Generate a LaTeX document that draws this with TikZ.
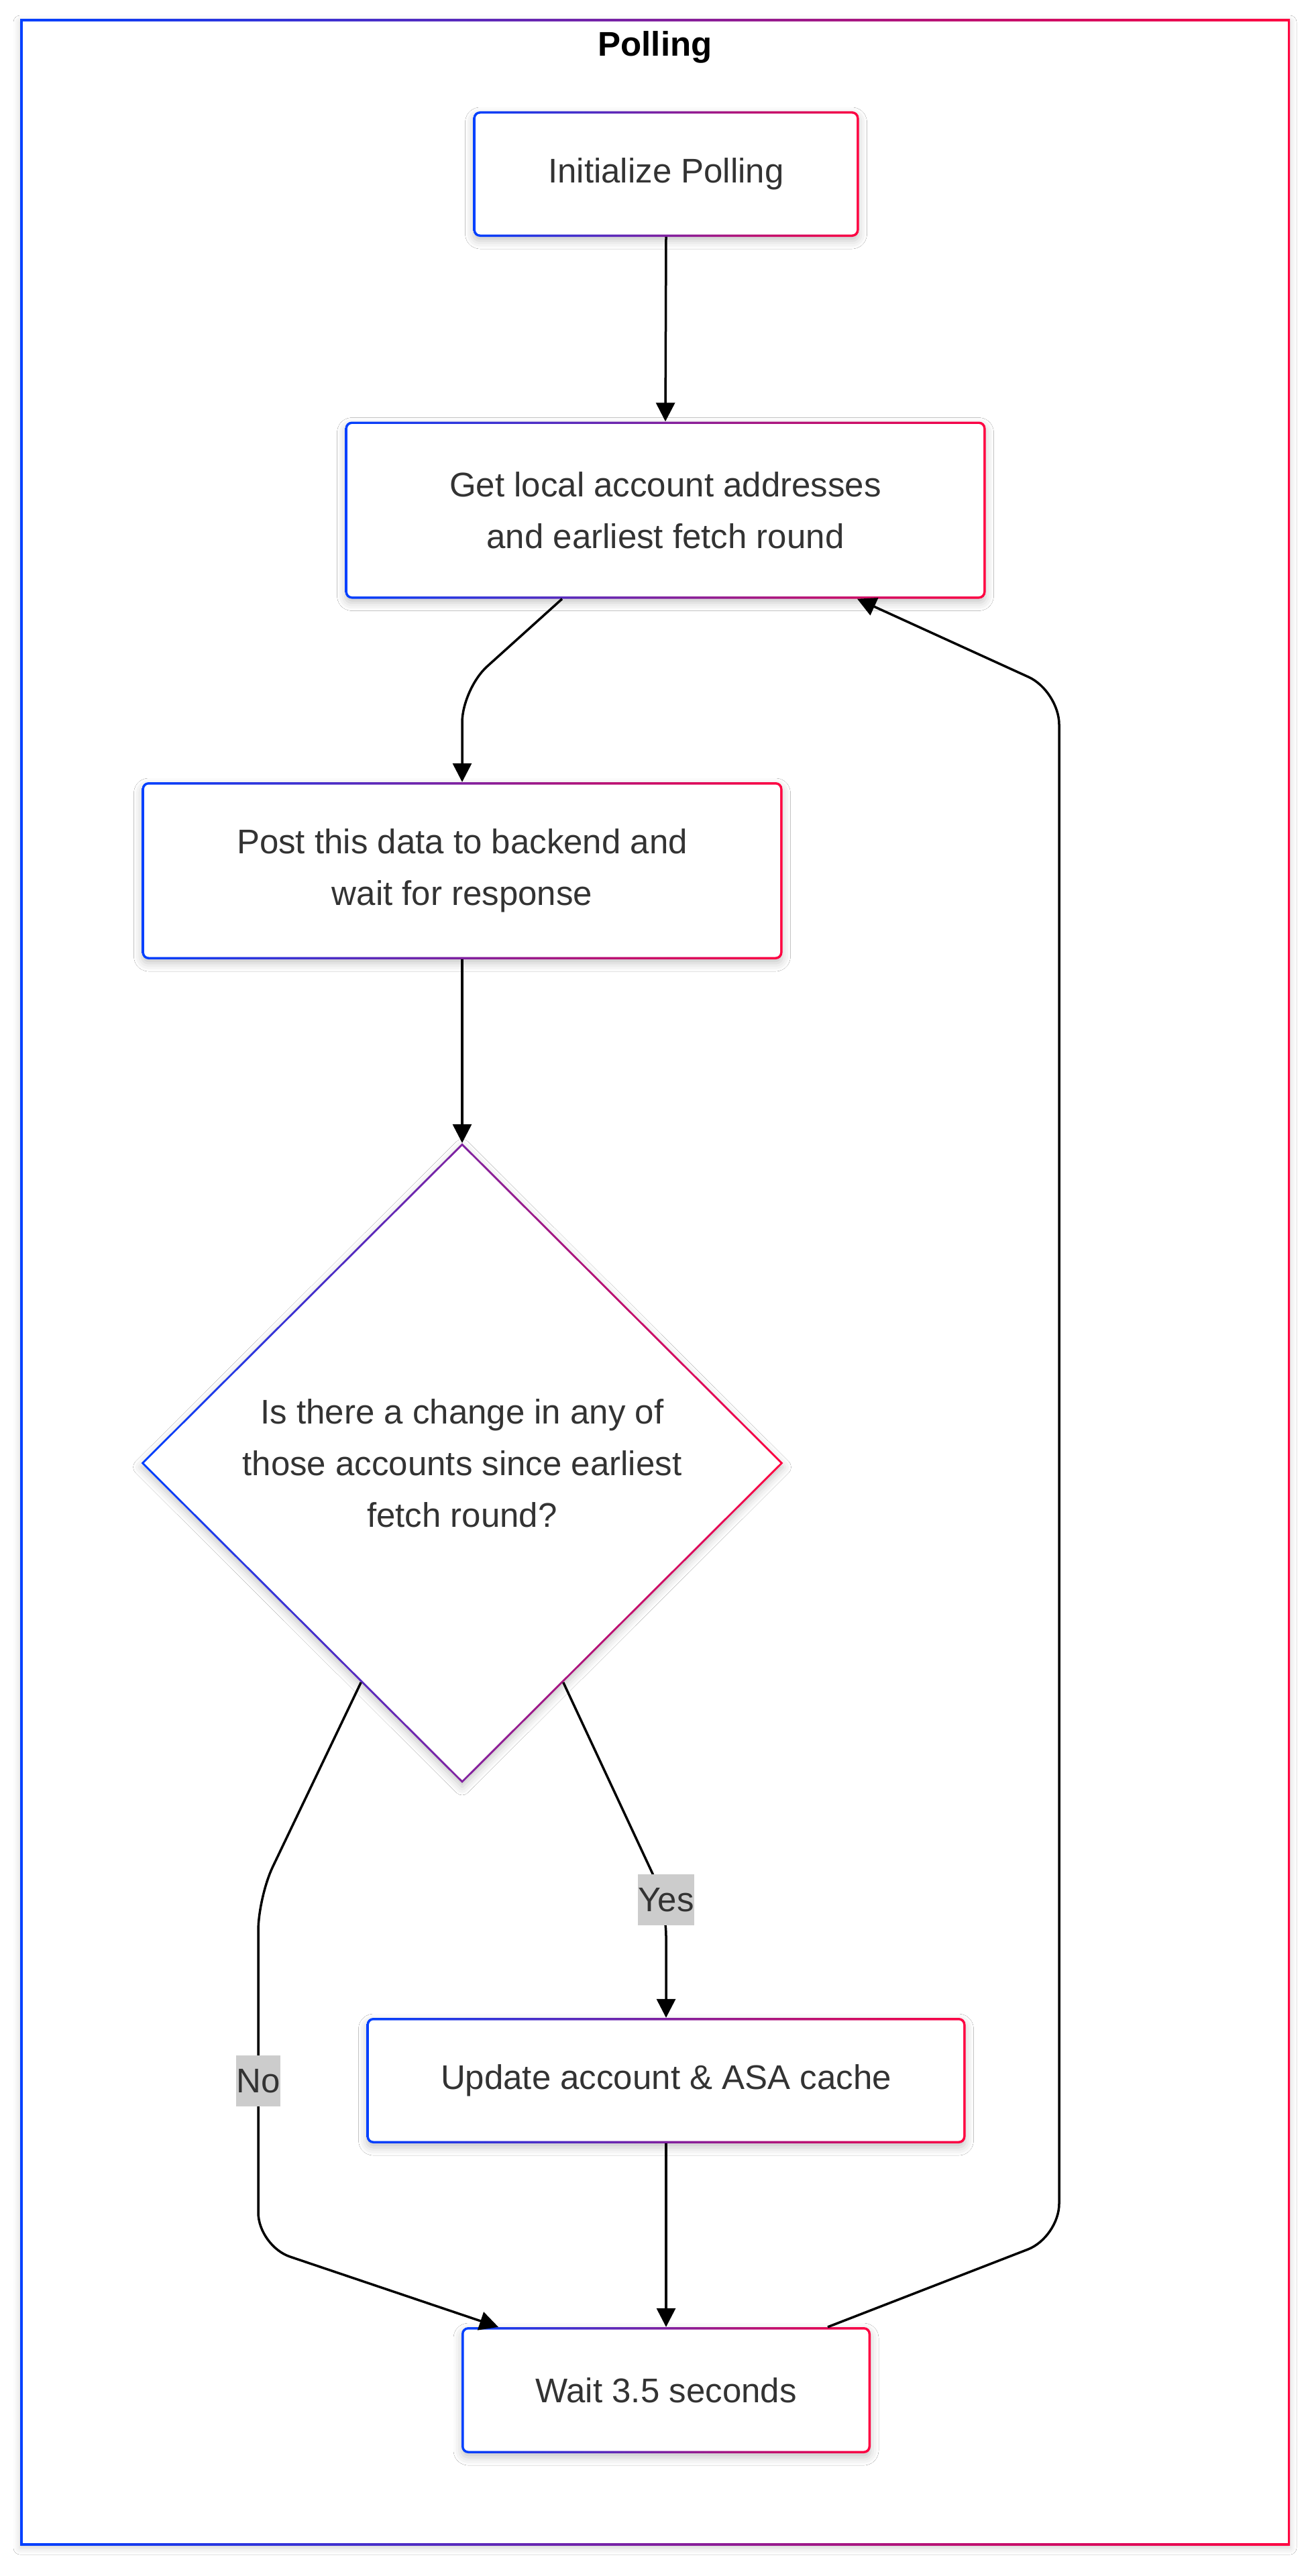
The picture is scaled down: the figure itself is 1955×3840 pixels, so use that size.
\documentclass[tikz,border=0pt]{standalone}
\usepackage{fontspec}
\setmainfont{Liberation Sans}
\usetikzlibrary{arrows.meta,shapes.geometric,shadows.blur,calc}
\definecolor{gblue}{RGB}{0,64,255}
\definecolor{gred}{RGB}{255,0,64}
\definecolor{txt}{RGB}{51,51,51}
\definecolor{lblbg}{RGB}{204,204,204}
\tikzset{
  mainfont/.style={font=\fontsize{51}{77}\selectfont},
  softshadow/.style={blur shadow={shadow xshift=0pt, shadow yshift=-6pt, shadow blur radius=12pt, shadow opacity=22}},
  gbox/.style={rectangle, rounded corners=10pt, left color=gblue, right color=gred,
    minimum height=187pt, inner sep=0pt, text=txt, mainfont, align=center, softshadow,
    path picture={\fill[white, rounded corners=7pt]
      ([shift={(3.5pt,-3.5pt)}]path picture bounding box.north west) rectangle
      ([shift={(-3.5pt,3.5pt)}]path picture bounding box.south east);}},
  gdia/.style={diamond, inner sep=0pt, minimum width=957pt, minimum height=954pt,
    left color=gblue, right color=gred, text=txt, mainfont, align=center, softshadow,
    path picture={\fill[white]
      ([yshift=-4.2pt]path picture bounding box.north) --
      ([xshift=-4.2pt]path picture bounding box.east) --
      ([yshift=4.2pt]path picture bounding box.south) --
      ([xshift=4.2pt]path picture bounding box.west) -- cycle;}},
  gframe/.style={rectangle, inner sep=0pt, left color=gblue, right color=gred,
    blur shadow={shadow xshift=0pt, shadow yshift=-4pt, shadow blur radius=10pt, shadow opacity=18},
    path picture={\fill[white]
      ([shift={(3.5pt,-3.5pt)}]path picture bounding box.north west) rectangle
      ([shift={(-3.5pt,3.5pt)}]path picture bounding box.south east);}},
  arr/.style={draw=black, line width=3.5pt, line join=round, rounded corners=50pt,
    -{Triangle[length=28pt,width=28pt]}},
  elabel/.style={fill=lblbg, text=txt, mainfont, inner xsep=0pt, inner ysep=0pt,
    minimum height=76pt},
}
\begin{document}
\begin{tikzpicture}[x=1pt,y=-1pt]
\useasboundingbox (0,0) rectangle (1955,3840);
\fill[white] (0,0) rectangle (1955,3840);

\node[gframe, minimum width=1893pt, minimum height=3765pt] (polling) at (976.5,1911.5) {};
\node[font=\fontsize{51}{77}\selectfont\bfseries, text=black, inner sep=0pt] (title) at (976.5,70) {Polling};

\node[gbox, minimum width=575pt] (init) at (993,259.5) {Initialize Polling};
\node[gbox, minimum width=955pt, minimum height=264pt] (get) at (992,760.5)
  {Get local account addresses\\and earliest fetch round};
\node[gbox, minimum width=955pt, minimum height=264pt] (post) at (689,1298)
  {Post this data to backend and\\wait for response};
\node[gdia] (dec) at (689,2181)
  {Is there a change in any of\\those accounts since earliest\\fetch round?};
\node[gbox, minimum width=893pt] (update) at (993,3101.5) {Update account \& ASA cache};
\node[gbox, minimum width=610pt, minimum height=188pt] (wait) at (993,3563) {Wait 3.5 seconds};

\coordinate (b1) at (689,1027);
\coordinate (yb) at (993,2836);
\coordinate (n1) at (385,2828);
\coordinate (n2) at (385,3348);
\coordinate (l1) at (1579,3335);
\coordinate (l2) at (1579,1030);

\draw[arr] (init.south) -- (get.north);
\draw[arr] ([xshift=-154pt]get.south) -- (b1) -- (post.north);
\draw[arr] (post.south) -- (dec.north);
\draw[arr] ($(dec.south)!0.315!(dec.east)$) -- (yb) -- (update.north);
\draw[arr] ($(dec.south)!0.315!(dec.west)$) -- (n1) -- (n2) -- ([xshift=-250pt]wait.north);
\draw[arr] (update.south) -- (wait.north);
\draw[arr] ([xshift=241pt]wait.north) -- (l1) -- (l2) -- ([xshift=286pt]get.south);

\node[elabel] (yes) at (993,2832) {Yes};
\node[elabel] (no) at (385,3102) {No};
\end{tikzpicture}
\end{document}
